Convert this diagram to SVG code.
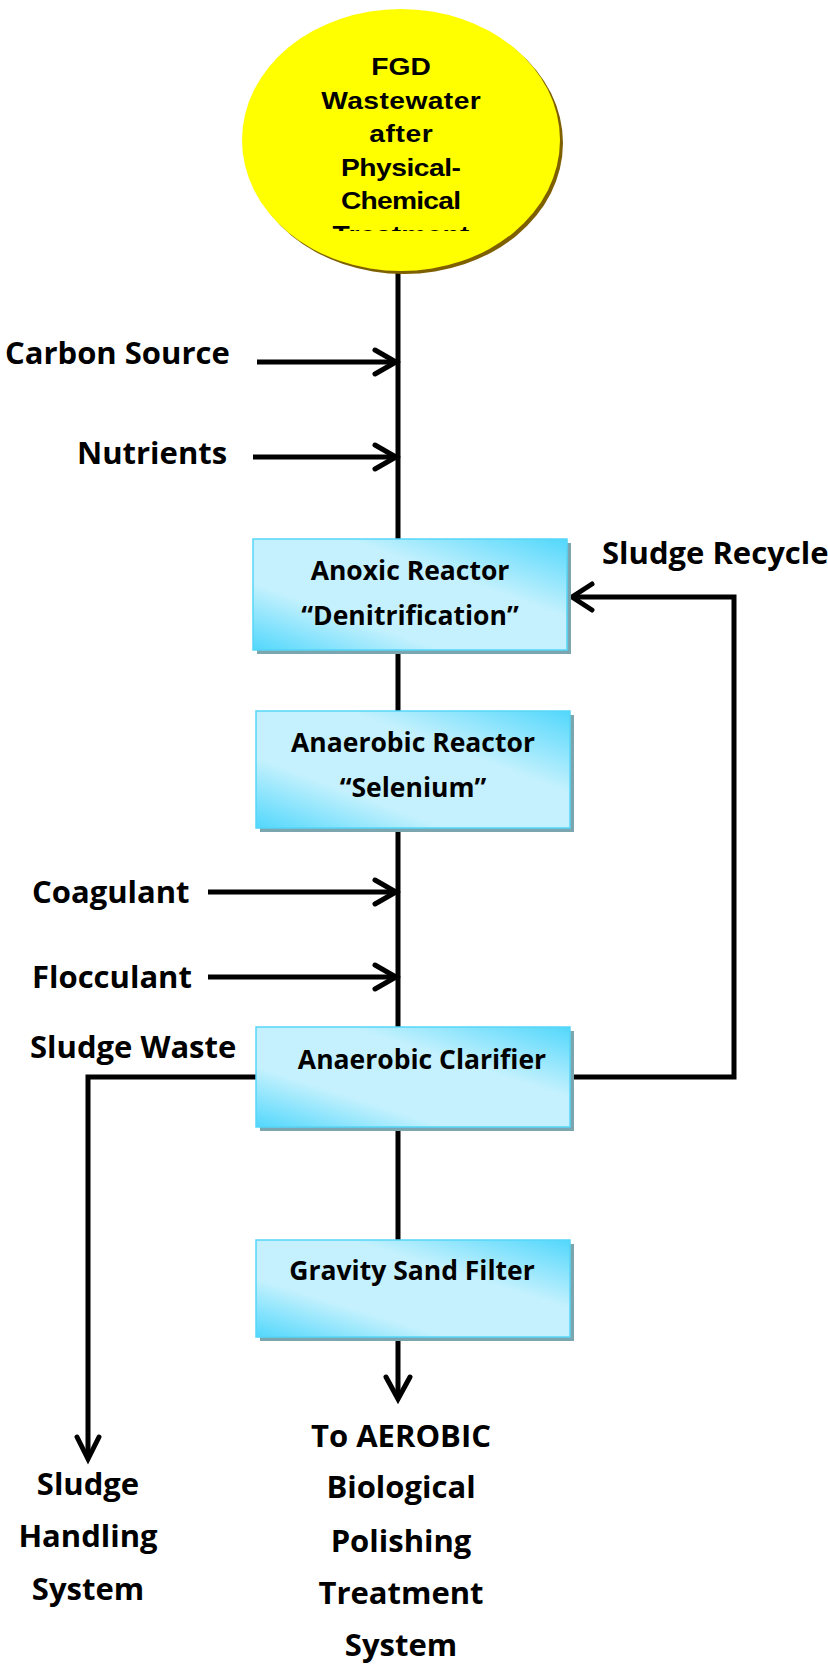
<svg xmlns="http://www.w3.org/2000/svg" width="828" height="1664" viewBox="0 0 828 1664">
<style>
.lbl{font-family:"Open Sans","Noto Sans",sans-serif;font-weight:700;font-size:31px;fill:#000}
.box-t{font-family:"Open Sans","Noto Sans",sans-serif;font-weight:700;font-size:26.5px;fill:#000;text-anchor:middle}
.circ-t{font-family:"Liberation Sans",Arial,sans-serif;font-weight:700;font-size:23.5px;fill:#000;text-anchor:middle}
.box{fill:url(#boxGrad);stroke:#55d6f8;stroke-width:1.5}
.shadow{fill:#7ba6b0}
.ln{fill:none;stroke:#000;stroke-width:5}
.head{fill:none;stroke:#000;stroke-width:5;stroke-linecap:round;stroke-linejoin:miter}
</style>
<defs>
<linearGradient id="boxGrad" x1="0" y1="1" x2="1" y2="0">
<stop offset="0" stop-color="#52d7fc"/>
<stop offset="0.3" stop-color="#c4f1fd"/>
<stop offset="0.65" stop-color="#c4f1fd"/>
<stop offset="1" stop-color="#52d7fc"/>
</linearGradient>
<clipPath id="circClip"><rect x="230" y="0" width="340" height="231"/></clipPath>
</defs>
<g id="connectors">
<line class="ln" x1="398" y1="260" x2="398" y2="1398"/>
<line class="ln" x1="257" y1="362" x2="395" y2="362"/>
<path class="head" d="M375,350 L396,362 L375,374"/>
<line class="ln" x1="253" y1="457" x2="395" y2="457"/>
<path class="head" d="M375,445 L396,457 L375,469"/>
<line class="ln" x1="208" y1="892" x2="395" y2="892"/>
<path class="head" d="M375,880 L396,892 L375,904"/>
<line class="ln" x1="208" y1="977" x2="395" y2="977"/>
<path class="head" d="M375,965 L396,977 L375,989"/>
<path class="head" d="M386,1377 L398,1399 L410,1377"/>
<path class="ln" d="M256,1077 L88,1077 L88,1458"/>
<path class="head" d="M77,1437 L88,1459 L99,1437"/>
<path class="ln" d="M570,1077 L734,1077 L734,597 L573,597"/>
<path class="head" d="M592,584 L572,597 L592,610"/>
</g>
<g id="source">
<ellipse cx="404" cy="143" rx="159" ry="131" fill="#7f6000"/>
<ellipse cx="401" cy="140" rx="159" ry="131" fill="#ffff00"/>
<g clip-path="url(#circClip)">
<g transform="translate(401,0) scale(1.2,1)">
<text class="circ-t" x="0" y="75">FGD</text>
<text class="circ-t" x="0" y="109" textLength="133" lengthAdjust="spacing">Wastewater</text>
<text class="circ-t" x="0" y="142" textLength="53" lengthAdjust="spacing">after</text>
<text class="circ-t" x="0" y="176" textLength="100" lengthAdjust="spacing">Physical-</text>
<text class="circ-t" x="0" y="209" textLength="100" lengthAdjust="spacing">Chemical</text>
<text class="circ-t" x="0" y="243" textLength="114" lengthAdjust="spacing">Treatment</text>
</g>
</g>
</g>
<g id="anoxic">
<rect class="shadow" x="257" y="543" width="314" height="111"/>
<rect class="box" x="253" y="539" width="314" height="111"/>
<text class="box-t" x="410" y="580">Anoxic Reactor</text>
<text class="box-t" x="410" y="625">“Denitrification”</text>
</g>
<g id="anaerobic">
<rect class="shadow" x="260" y="715" width="314" height="117"/>
<rect class="box" x="256" y="711" width="314" height="117"/>
<text class="box-t" x="413" y="752">Anaerobic Reactor</text>
<text class="box-t" x="413" y="797">“Selenium”</text>
</g>
<g id="clarifier">
<rect class="shadow" x="260" y="1031" width="314" height="100"/>
<rect class="box" x="256" y="1027" width="314" height="100"/>
<text class="box-t" x="422" y="1069">Anaerobic Clarifier</text>
</g>
<g id="filter">
<rect class="shadow" x="260" y="1244" width="314" height="97"/>
<rect class="box" x="256" y="1240" width="314" height="97"/>
<text class="box-t" x="412" y="1280">Gravity Sand Filter</text>
</g>
<g id="labels">
<text class="lbl" x="5" y="364">Carbon Source</text>
<text class="lbl" x="77" y="464">Nutrients</text>
<text class="lbl" x="32" y="903">Coagulant</text>
<text class="lbl" x="32" y="988">Flocculant</text>
<text class="lbl" x="30" y="1058">Sludge Waste</text>
<text class="lbl" x="602" y="564">Sludge Recycle</text>
<text class="lbl" x="88" y="1495" text-anchor="middle">Sludge</text>
<text class="lbl" x="88" y="1547" text-anchor="middle">Handling</text>
<text class="lbl" x="88" y="1600" text-anchor="middle">System</text>
<text class="lbl" x="401" y="1447" text-anchor="middle">To AEROBIC</text>
<text class="lbl" x="401" y="1498" text-anchor="middle">Biological</text>
<text class="lbl" x="401" y="1552" text-anchor="middle">Polishing</text>
<text class="lbl" x="401" y="1604" text-anchor="middle">Treatment</text>
<text class="lbl" x="401" y="1656" text-anchor="middle">System</text>
</g>
</svg>
